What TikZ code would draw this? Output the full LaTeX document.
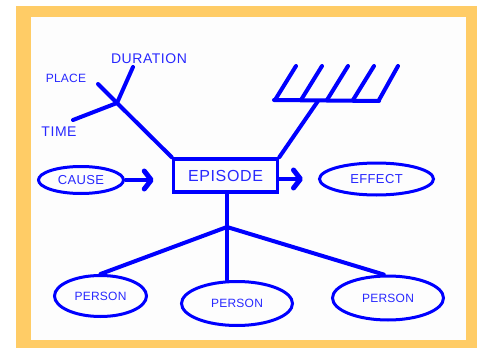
\documentclass[tikz,border=0pt]{standalone}
\usepackage{fontspec}
\setmainfont{Liberation Sans}
\usetikzlibrary{arrows.meta,shapes.geometric}
\definecolor{frameorange}{RGB}{255,204,102}
\definecolor{paper}{RGB}{253,253,253}
\definecolor{ink}{RGB}{0,0,255}
\definecolor{txt}{RGB}{40,40,255}
\begin{document}
\begin{tikzpicture}[x=1pt,y=-1pt,
  line/.style={draw=ink,line width=4pt,line cap=round},
  oval/.style={ellipse,draw=ink,line width=3pt,inner sep=0pt,text=txt},
  boxnode/.style={rectangle,draw=ink,line width=3.5pt,inner sep=0pt,text=txt},
  lbl/.style={text=txt,inner sep=0pt},
  headarrow/.style={-{Straight Barb[length=7pt,width=18pt,line width=5pt,round]}},
  f16/.style={font=\fontsize{16}{16}\selectfont\addfontfeatures{LetterSpace=4}},
  f14/.style={font=\fontsize{14}{14}\selectfont\addfontfeatures{LetterSpace=4}},
  f13/.style={font=\fontsize{13}{13}\selectfont\addfontfeatures{LetterSpace=3}},
  f12/.style={font=\fontsize{12}{12}\selectfont\addfontfeatures{LetterSpace=2}}]
\useasboundingbox (0,0) rectangle (480,348);
\fill[white] (0,0) rectangle (480,348);
\fill[frameorange] (16,6) rectangle (477,348);
\fill[paper] (31,17) rectangle (466,340);

% central box
\node[boxnode,f16,minimum width=104pt,minimum height=33pt] (ep) at (225.5,175.5) {EPISODE};

% ellipses
\node[oval,f13,minimum width=85pt,minimum height=27pt] (cause) at (81,180) {CAUSE};
\node[oval,f13,minimum width=114pt,minimum height=32pt] (eff) at (376.5,179) {EFFECT};
\node[oval,f12,minimum width=92pt,minimum height=41pt] (p1) at (100.5,296) {PERSON};
\node[oval,f12,minimum width=111pt,minimum height=44pt] (p2) at (237,303.5) {PERSON};
\node[oval,f12,minimum width=111pt,minimum height=44pt] (p3) at (388,298) {PERSON};

% labels
\node[lbl,f14] (dur) at (149,59) {DURATION};
\node[lbl,f12] (place) at (66,78) {PLACE};
\node[lbl,f14] (time) at (59,132) {TIME};

% left fork
\coordinate (jl) at (117,103);
\coordinate (dl) at (133,67);
\coordinate (pl) at (98,84);
\coordinate (tl) at (73,120);
\draw[line] (ep.north west) -- (jl);
\draw[line] (jl) -- (dl);
\draw[line] (jl) -- (pl);
\draw[line] (jl) -- (tl);

% right rake
\coordinate (jr) at (318,101);
\coordinate (rl) at (274,100);
\coordinate (rr) at (379,101);
\draw[line] (ep.north east) -- (jr);
\draw[line] (rl) -- (rr);
\foreach \bx/\tx in {275/296, 301/322, 327/348, 353/374, 379/398}{
  \draw[line] (\bx,100) -- (\tx,66);
}

% arrows
\draw[line,line cap=butt,headarrow,shorten >=18pt] (cause.east) -- (cause.east -| ep.west);
\draw[line,line cap=butt,headarrow,shorten >=15pt] (ep.east |- eff.west) -- (eff.west);

% bottom fork
\coordinate (jb) at (227,227);
\draw[line] (ep.south -| jb) -- (jb);
\draw[line] (jb) -- (p1.north);
\draw[line] (jb) -- (jb |- p2.north);
\draw[line] (jb) -- (p3.100);
\end{tikzpicture}
\end{document}
